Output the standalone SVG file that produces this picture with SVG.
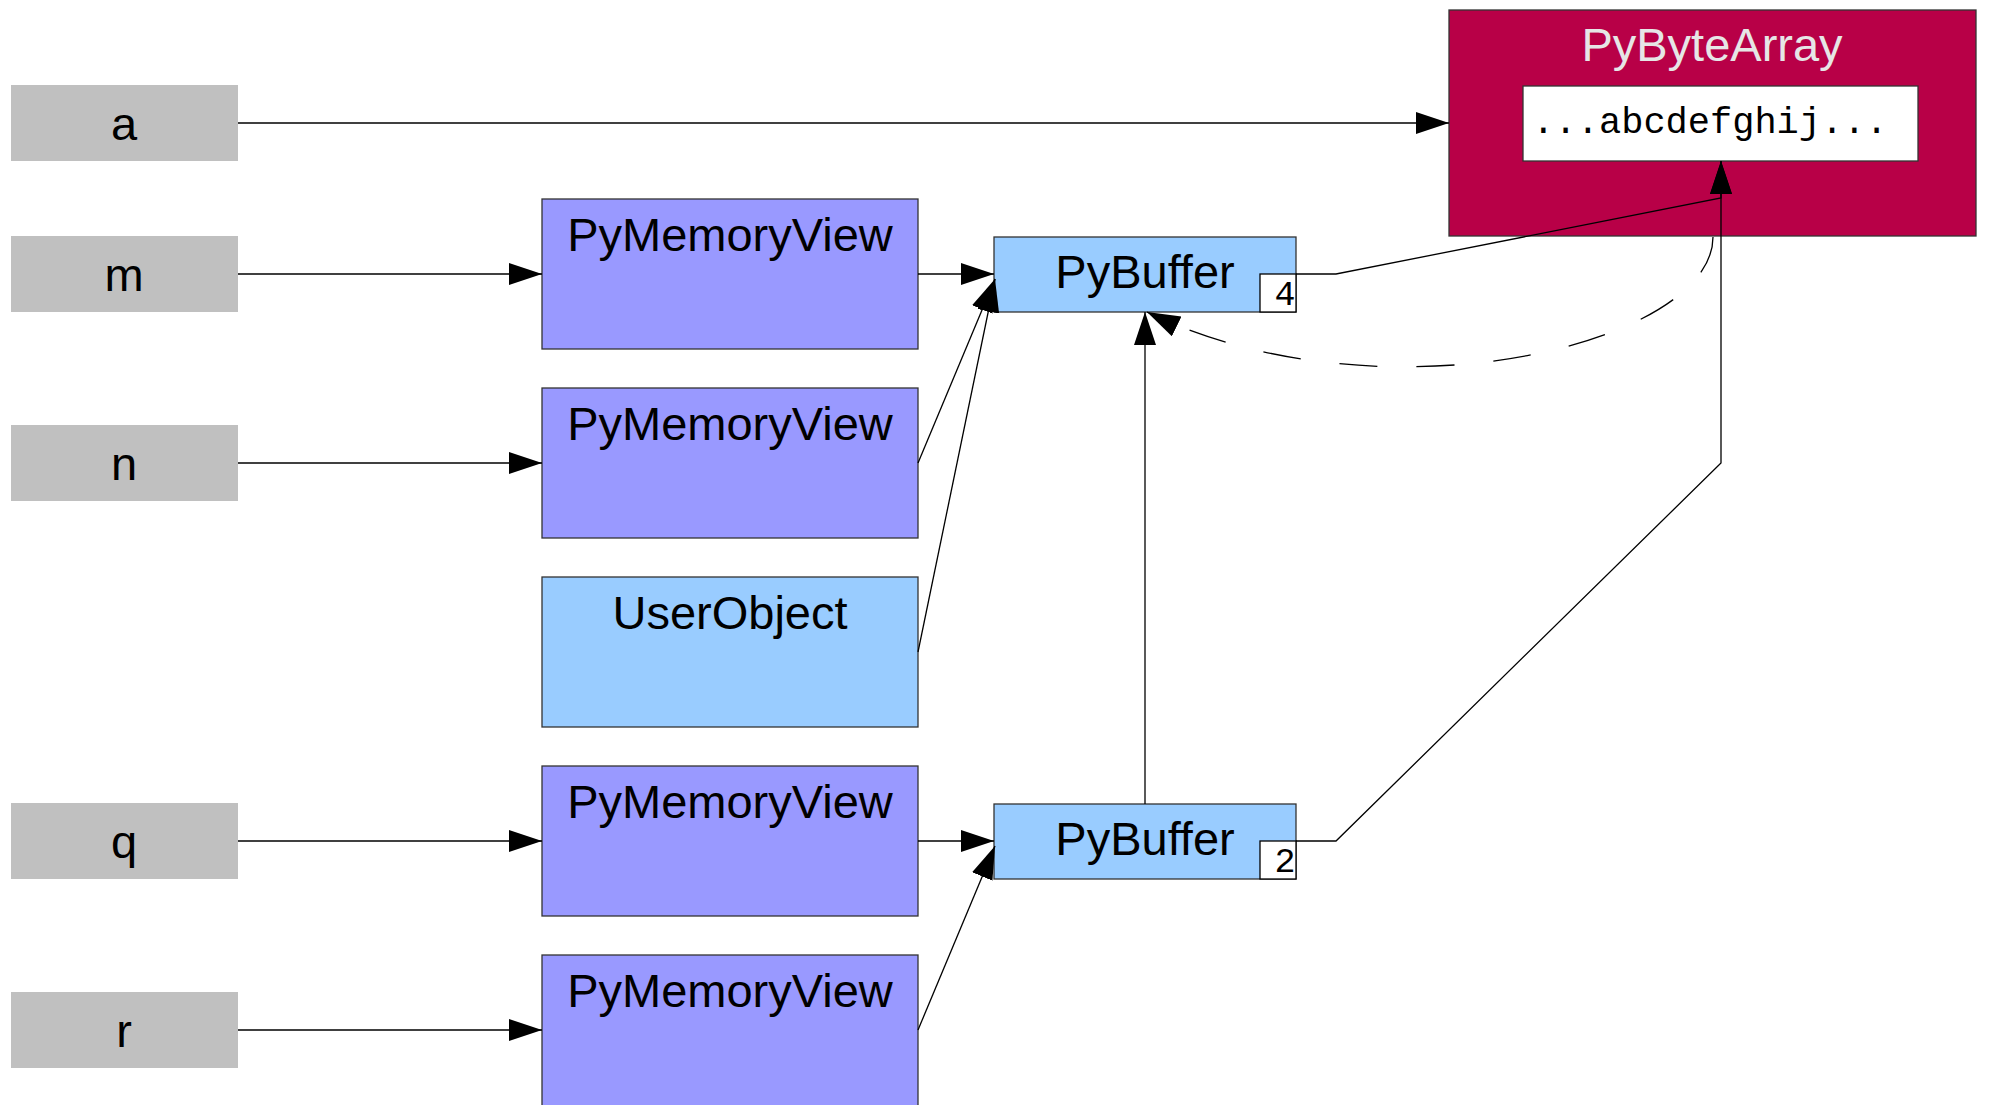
<svg xmlns="http://www.w3.org/2000/svg" width="1989" height="1105" viewBox="0 0 1989 1105">
<defs>
<marker id="ah" markerUnits="userSpaceOnUse" markerWidth="34" markerHeight="24" refX="33" refY="11" orient="auto">
<path d="M0,0 L33,11 L0,22 z" fill="#000"/>
</marker>
<style>
.lbl{fill:#c0c0c0}
.mv{fill:#9999ff;stroke:#333;stroke-width:1.3}
.lb{fill:#99ccff;stroke:#333;stroke-width:1.3}
.t{font-family:"Liberation Sans",Arial,sans-serif;font-size:47px;fill:#000;text-anchor:middle}
.n{font-family:"Liberation Mono","Courier New",monospace;font-size:35px;fill:#000;text-anchor:middle}
.c{fill:none;stroke:#000;stroke-width:1.3;marker-end:url(#ah)}
</style>
</defs>
<rect width="1989" height="1105" fill="#fff"/>
<g id="var-a"><rect class="lbl" x="11" y="85" width="227" height="76"/><text class="t" x="124" y="140">a</text></g>
<g id="var-m"><rect class="lbl" x="11" y="236" width="227" height="76"/><text class="t" x="124" y="291">m</text></g>
<g id="var-n"><rect class="lbl" x="11" y="425" width="227" height="76"/><text class="t" x="124" y="480">n</text></g>
<g id="var-q"><rect class="lbl" x="11" y="803" width="227" height="76"/><text class="t" x="124" y="858">q</text></g>
<g id="var-r"><rect class="lbl" x="11" y="992" width="227" height="76"/><text class="t" x="124" y="1047">r</text></g>
<g id="mv1"><rect class="mv" x="542" y="199" width="376" height="150"/><text class="t" x="730" y="251">PyMemoryView</text></g>
<g id="mv2"><rect class="mv" x="542" y="388" width="376" height="150"/><text class="t" x="730" y="440">PyMemoryView</text></g>
<g id="userobj"><rect class="lb" x="542" y="577" width="376" height="150"/><text class="t" x="730" y="629">UserObject</text></g>
<g id="mv4"><rect class="mv" x="542" y="766" width="376" height="150"/><text class="t" x="730" y="818">PyMemoryView</text></g>
<g id="mv5"><rect class="mv" x="542" y="955" width="376" height="160"/><text class="t" x="730" y="1007">PyMemoryView</text></g>
<g id="pybuf1"><rect class="lb" x="994" y="237" width="302" height="75"/><text class="t" x="1145" y="288">PyBuffer</text><rect x="1260" y="274" width="36" height="38" fill="#fff" stroke="#000" stroke-width="1.3"/><text class="n" x="1285" y="305">4</text></g>
<g id="pybuf2"><rect class="lb" x="994" y="804" width="302" height="75"/><text class="t" x="1145" y="855">PyBuffer</text><rect x="1260" y="841" width="36" height="38" fill="#fff" stroke="#000" stroke-width="1.3"/><text class="n" x="1285" y="872">2</text></g>
<g id="pybytearray"><rect x="1449" y="10" width="527" height="226" fill="#b80047" stroke="#333" stroke-width="1.3"/><text class="t" x="1712" y="61" style="fill:#e6e6e6">PyByteArray</text><rect x="1523" y="86" width="395" height="75" fill="#fff" stroke="#333" stroke-width="1.3"/><text x="1710" y="133" style="font-family:'Liberation Mono','Courier New',monospace;font-size:37px;fill:#000;text-anchor:middle">...abcdefghij...</text></g>
<g id="connectors">
<path class="c" d="M238,123 H1449"/>
<path class="c" d="M238,274 H542"/>
<path class="c" d="M238,463 H542"/>
<path class="c" d="M238,841 H542"/>
<path class="c" d="M238,1030 H542"/>
<path class="c" d="M918,274 H994"/>
<path class="c" d="M918,463 L995,279"/>
<path class="c" d="M918,652 L995,279"/>
<path class="c" d="M918,841 H994"/>
<path class="c" d="M918,1030 L995,846"/>
<path class="c" d="M1145,804 V312"/>
<path class="c" d="M1296,274 H1336 L1721,198 V161"/>
<path class="c" d="M1296,841 H1336 L1721,463 V161"/>
<path class="c" d="M1713,237 C1713,345 1380,425 1147,312" stroke-dasharray="38 39"/>
</g>
</svg>
